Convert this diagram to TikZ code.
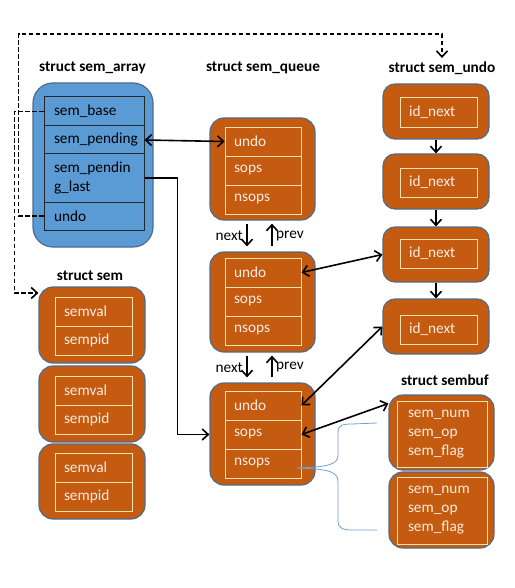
\documentclass[tikz,border=0pt]{standalone}
\usepackage{fontspec}
\setmainfont{Carlito}
\usepackage{xcolor}
\usetikzlibrary{arrows.meta}
\definecolor{semorange}{RGB}{197,90,17}
\definecolor{semblue}{RGB}{91,155,213}
\definecolor{edgegrey}{RGB}{80,108,138}
\definecolor{cellline}{RGB}{250,226,175}
\definecolor{celltext}{RGB}{252,236,222}
\definecolor{bracecol}{RGB}{110,160,210}

\begin{document}
\begin{tikzpicture}[x=1pt,y=-1pt,
   font=\fontsize{15.3}{19}\selectfont,
   >={Straight Barb[length=6pt,width=11pt]},
   link/.style={line width=1.6pt},
   dashlink/.style={link,dashed,dash pattern=on 4.5pt off 2.5pt},
   heading/.style={font=\fontsize{15.3}{19}\selectfont\bfseries},
   abox/.style={draw=edgegrey,fill=semblue,line width=1.2pt,rounded corners=20pt},
   acell/.style={draw=black!85,line width=1pt,inner xsep=10pt,inner ysep=0pt,text width=80pt,align=left},
   obox/.style={draw=edgegrey,fill=semorange,line width=1.2pt,rounded corners=14pt,minimum width=106pt},
   ocell/.style={draw=cellline,line width=0.8pt,text=celltext,inner xsep=9pt,inner ysep=0pt,text width=59pt,align=left,minimum height=29pt},
   bufcell/.style={ocell,inner xsep=11pt,text width=68pt}]
   \useasboundingbox (0,0) rectangle (514,588);
   \node[heading] (tarray) at (92.5,68) {struct sem\_array};
   \node[heading] (tqueue) at (263,68) {struct sem\_queue};
   \node[heading] (tundo) at (442,68) {struct sem\_undo};
   \node[heading] (tsem) at (90,276) {struct sem};
   \node[heading] (tsembuf) at (445,380) {struct sembuf};
   \node[abox,minimum width=120pt,minimum height=164pt] (sa) at (93,165) {};
   \node[acell,minimum height=29pt] (sabase) at (94,111.5) {sem\_base};
   \node[acell,minimum height=28pt] (sapend) at (94,140) {sem\_pending};
   \node[acell,minimum height=48pt] (sapl) at (94,178) {sem\_pendin\\g\_last};
   \node[acell,minimum height=28pt] (saundo) at (94,216) {undo};
   \node[obox,minimum width=105pt,minimum height=102pt] (q1) at (262.5,169) {};
   \node[ocell,text width=58pt] (q1undo) at (263,141.5) {undo};
   \node[ocell,text width=58pt] (q1sops) at (263,170.5) {sops};
   \node[ocell,text width=58pt] (q1nsops) at (263,199.5) {nsops};
   \node[obox,minimum width=105pt,minimum height=100pt] (q2) at (262.5,302) {};
   \node[ocell,text width=58pt] (q2undo) at (263,272.5) {undo};
   \node[ocell,text width=58pt] (q2sops) at (263,301.5) {sops};
   \node[ocell,text width=58pt] (q2nsops) at (263,330.5) {nsops};
   \node[obox,minimum width=105pt,minimum height=102pt] (q3) at (262.5,434) {};
   \node[ocell,text width=58pt] (q3undo) at (263,405.5) {undo};
   \node[ocell,text width=58pt] (q3sops) at (263,434.5) {sops};
   \node[ocell,text width=58pt] (q3nsops) at (263,463.5) {nsops};
   \node[obox,rounded corners=12pt,minimum height=55pt] (u1) at (436,111.5) {};
   \node[ocell,minimum height=30pt] (u1c) at (438.5,112) {id\_next};
   \node[obox,rounded corners=12pt,minimum height=55pt] (u2) at (436,181.5) {};
   \node[ocell] (u2c) at (438.5,182.5) {id\_next};
   \node[obox,rounded corners=12pt,minimum height=55pt] (u3) at (436,254.5) {};
   \node[ocell] (u3c) at (438.5,253.5) {id\_next};
   \node[obox,rounded corners=12pt,minimum height=55pt] (u4) at (436,326.5) {};
   \node[ocell] (u4c) at (438.5,329.5) {id\_next};
   \node[obox,minimum width=105pt,minimum height=75pt] (sb1) at (441.5,432.5) {};
   \node[bufcell,minimum height=66pt] (sb1c) at (442,434) {sem\_num\\sem\_op\\sem\_flag};
   \node[obox,minimum width=105pt,minimum height=76pt] (sb2) at (441.5,510) {};
   \node[bufcell,minimum height=67pt] (sb2c) at (442,510.5) {sem\_num\\sem\_op\\sem\_flag};
   \node[obox,minimum height=76pt] (s1) at (92,325) {};
   \node[ocell] (s1val) at (93.5,311.5) {semval};
   \node[ocell] (s1pid) at (93.5,340.5) {sempid};
   \node[obox,minimum height=76pt] (s2) at (92,404) {};
   \node[ocell] (s2val) at (93.5,390.5) {semval};
   \node[ocell] (s2pid) at (93.5,419.5) {sempid};
   \node[obox,minimum height=75pt] (s3) at (92,481.5) {};
   \node[ocell] (s3val) at (93.5,467.5) {semval};
   \node[ocell] (s3pid) at (93.5,496.5) {sempid};
   \draw[link,<->] (sapend.east) -- (q1undo.west);
   \draw[link,->] (sapl.east) -- ++(33,0) |- (q3sops -| q3.west);
   \draw[dashlink,->] (saundo.west) -- ++(-25,0) |- ([yshift=24pt]tundo.north) -- (tundo.north);
   \draw[dashlink,->] (sabase.west) -- ++(-29,0) |- ([yshift=32pt]s1.west);
   \draw[link,->,shorten <=3pt,shorten >=5pt] ([xshift=-15.5pt]q1.south) -- ([xshift=-15.5pt]q2.north) node[midway,left] {next};
   \draw[link,->,shorten <=5pt,shorten >=3pt] ([xshift=9.5pt]q2.north) -- ([xshift=9.5pt]q1.south) node[midway,right] {prev};
   \draw[link,->,shorten <=3pt,shorten >=5pt] ([xshift=-15.5pt]q2.south) -- ([xshift=-15.5pt]q3.north) node[midway,left] {next};
   \draw[link,->,shorten <=5pt,shorten >=3pt] ([xshift=9.5pt]q3.north) -- ([xshift=9.5pt]q2.south) node[midway,right] {prev};
   \draw[link,->] (u1.south) -- (u2.north);
   \draw[link,->] (u2.south) -- (u3.north);
   \draw[link,->] (u3.south) -- (u4.north);
   \draw[link,<->] (q2undo.east) -- (u3.west);
   \draw[link,<->] (q3undo.east) -- (u4.west);
   \draw[link,<->] (q3sops.east) -- ([yshift=29pt]sb1.west);
   \draw[bracecol,line width=0.8pt] (297,468) .. controls (330,467) and (338,464) .. (338,455) -- (338,432) .. controls (338,425) and (343,424) .. (352,424) -- (377,423);
   \draw[bracecol,line width=0.8pt] (297,468) .. controls (330,469) and (338,472) .. (338,482) -- (338,521) .. controls (338,528) and (343,530) .. (352,530) -- (377,530);
\end{tikzpicture}
\end{document}
